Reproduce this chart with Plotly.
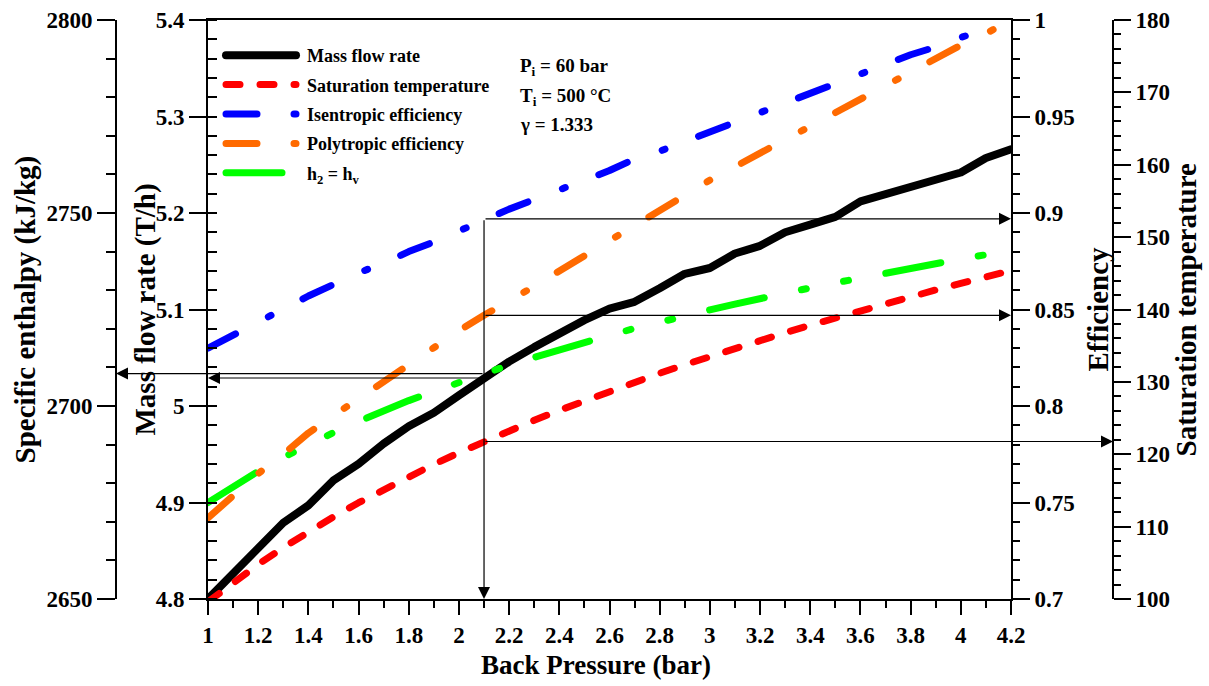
import plotly.graph_objects as go

# ---------------- data ----------------
pressure = [1.0, 1.1, 1.2, 1.3, 1.4, 1.5, 1.6, 1.7, 1.8, 1.9, 2.0, 2.1,
            2.2, 2.3, 2.4, 2.5, 2.6, 2.7, 2.8, 2.9, 3.0, 3.1, 3.2, 3.3,
            3.4, 3.5, 3.6, 3.7, 3.8, 3.9, 4.0, 4.1, 4.2]

mass_flow = [4.800, 4.826, 4.853, 4.879, 4.897, 4.923, 4.940, 4.961, 4.979, 4.993, 5.011, 5.029,
             5.046, 5.061, 5.076, 5.089, 5.101, 5.108, 5.122, 5.137, 5.143, 5.158, 5.166, 5.180,
             5.188, 5.196, 5.212, 5.219, 5.227, 5.234, 5.242, 5.257, 5.266]

sat_temp = [99.61, 102.29, 104.78, 107.11, 109.29, 111.35, 113.30, 115.15, 116.91, 118.60, 120.21, 121.76,
            123.25, 124.69, 126.07, 127.41, 128.71, 129.97, 131.19, 132.37, 133.52, 134.65, 135.74, 136.80,
            137.84, 138.86, 139.85, 140.82, 141.77, 142.70, 143.61, 144.50, 145.38]

isen_eff = [0.830, 0.837, 0.844, 0.850, 0.857, 0.863, 0.869, 0.874, 0.880, 0.885, 0.891, 0.897,
            0.902, 0.907, 0.912, 0.917, 0.922, 0.928, 0.932, 0.937, 0.942, 0.947, 0.952, 0.957,
            0.962, 0.967, 0.972, 0.977, 0.982, 0.986, 0.991, 0.995]

poly_eff = [0.742, 0.754, 0.765, 0.775, 0.786, 0.795, 0.804, 0.813, 0.822, 0.831, 0.839, 0.847,
            0.854, 0.862, 0.870, 0.878, 0.886, 0.894, 0.902, 0.910, 0.917, 0.924, 0.931, 0.938,
            0.946, 0.953, 0.960, 0.966, 0.973, 0.981, 0.987, 0.993, 1.000]

h_vap = [2675.0, 2679.2, 2683.1, 2686.7, 2690.0, 2693.1, 2696.0, 2698.8, 2701.4, 2703.8, 2706.2, 2708.4,
         2710.6, 2712.6, 2714.6, 2716.5, 2718.3, 2720.1, 2721.8, 2723.4, 2724.9, 2726.4, 2727.9, 2729.3,
         2730.6, 2731.9, 2733.2, 2734.5, 2735.7, 2736.9, 2738.1, 2739.2]

series_names = ["Mass flow rate", "Saturation temperature", "Isentropic efficiency",
                "Polytropic efficiency", "h<sub>2</sub> = h<sub>v</sub>"]
param_labels = ["P<sub>i</sub> = 60 bar", "T<sub>i</sub> = 500 °C", "γ = 1.333"]
marked_pressure = 2.1

x_range = [1.0, 4.2]
mass_range = [4.8, 5.4]
enth_range = [2650, 2800]
eff_range = [0.7, 1.0]
temp_range = [100, 180]

# ---------------- layout geometry ----------------
W, H = 1209, 686
FONT = "Liberation Serif, Times New Roman, serif"
X0, X1 = 208 / W, 1011 / W
Y0, Y1 = 1 - 599 / H, 1 - 20 / H
ENTH_POS = 116 / W
TEMP_POS = 1113 / W
YMID = (Y0 + Y1) / 2

tickfont = dict(family=FONT, size=23, color="black", weight="bold")

fig = go.Figure()
n = len(isen_eff)
m = len(h_vap)
fig.add_trace(go.Scatter(x=pressure, y=mass_flow, name=series_names[0], mode="lines",
                         line=dict(color="black", width=8), yaxis="y", legendgroup="a"))
fig.add_trace(go.Scatter(x=pressure, y=sat_temp, name=series_names[1], mode="lines",
                         line=dict(color="#ff0000", width=7, dash="14px,20px"), yaxis="y4", legendgroup="b"))
fig.add_trace(go.Scatter(x=pressure[:n], y=isen_eff, name=series_names[2], mode="lines",
                         line=dict(color="#0000ff", width=7, dash="31px,37px,3px,36px"), yaxis="y3", legendgroup="c"))
fig.add_trace(go.Scatter(x=pressure, y=poly_eff, name=series_names[3], mode="lines",
                         line=dict(color="#ff6a00", width=7, dash="31px,37px,3px,36px"), yaxis="y3", legendgroup="d"))
fig.add_trace(go.Scatter(x=pressure[:m], y=h_vap, name=series_names[4], mode="lines",
                         line=dict(color="#00ff00", width=7, dash="56px,38px,5px,38px,5px,38px"), yaxis="y2", legendgroup="e"))

common = dict(showline=True, linecolor="black", linewidth=2, ticks="outside", tickcolor="black",
              tickwidth=2, showgrid=False, zeroline=False, tickfont=tickfont, automargin=False)

fig.update_layout(
    width=W, height=H, margin=dict(l=0, r=0, t=0, b=0),
    paper_bgcolor="white", plot_bgcolor="white",
    xaxis=dict(domain=[X0, X1], range=x_range, tick0=1, dtick=0.2, ticklen=14, mirror=True,
               minor=dict(dtick=0.1, ticks="outside", ticklen=7, tickwidth=2, tickcolor="black"),
               anchor="y", **common),
    yaxis=dict(domain=[Y0, Y1], range=mass_range, dtick=0.1, ticklen=17, anchor="x", side="left",
               minor=dict(dtick=0.02, ticks="inside", ticklen=9, tickwidth=2, tickcolor="black"),
               **common),
    yaxis2=dict(domain=[Y0, Y1], range=enth_range, dtick=50, ticklen=18, overlaying="y", anchor="free",
                position=ENTH_POS, side="left",
                minor=dict(dtick=10, ticks="outside", ticklen=9, tickwidth=2, tickcolor="black"),
                **common),
    yaxis3=dict(domain=[Y0, Y1], range=eff_range, dtick=0.05, ticklen=17, overlaying="y", anchor="x",
                side="right",
                minor=dict(dtick=0.01, ticks="outside", ticklen=7, tickwidth=2, tickcolor="black"),
                **common),
    yaxis4=dict(domain=[Y0, Y1], range=temp_range, dtick=10, ticklen=17, overlaying="y", anchor="free",
                position=TEMP_POS, side="right",
                minor=dict(dtick=2, ticks="outside", ticklen=7, tickwidth=2, tickcolor="black"),
                **common),
    showlegend=True,
    legend=dict(x=221 / W, y=1 - 37 / H, xanchor="left", yanchor="top", bgcolor="rgba(0,0,0,0)",
                font=dict(family=FONT, size=18, color="black", weight="bold"),
                itemwidth=76, tracegroupgap=3),
)

# axis titles
title_font = dict(family=FONT, size=29, color="black", weight="bold")
titles = [
    ("Specific enthalpy (kJ/kg)", 25 / W, YMID, -90),
    ("Mass flow rate (T/h)", 145 / W, YMID, -90),
    ("Efficiency", 1097 / W, YMID, -90),
    ("Saturation temperature", 1185 / W, YMID, -90),
]
for txt, xp, yp, ang in titles:
    fig.add_annotation(text=txt, x=xp, y=yp, xref="paper", yref="paper", showarrow=False,
                       textangle=ang, font=title_font, xanchor="center", yanchor="middle")
fig.add_annotation(text="Back Pressure (bar)", x=(X0 + X1) / 2 - 0.011, y=1 - 665 / H, xref="paper",
                   yref="paper", showarrow=False, font=dict(family=FONT, size=27, color="black", weight="bold"),
                   xanchor="center", yanchor="middle")

# parameters text
for k, (lab, ypix) in enumerate(zip(param_labels, [67, 97, 124])):
    fig.add_annotation(text=lab, x=518 / W, y=1 - ypix / H, xref="paper", yref="paper", showarrow=False,
                       font=dict(family=FONT, size=19, color="black", weight="bold"),
                       xanchor="left", yanchor="middle")

# reading arrows at the marked pressure
i = pressure.index(marked_pressure)


def x_at_paper(p):
    return x_range[0] + (p - X0) / (X1 - X0) * (x_range[1] - x_range[0])


arrow = dict(showarrow=True, arrowhead=2, arrowsize=2, arrowwidth=1.2, arrowcolor="black",
             text="", standoff=0, axref="x")
# vertical arrow down to the pressure axis
fig.add_annotation(x=marked_pressure, y=eff_range[0], ax=marked_pressure, ay=isen_eff[i],
                   xref="x", yref="y3", ayref="y3", **arrow)
# to the efficiency axis
fig.add_annotation(x=x_range[1], y=isen_eff[i], ax=marked_pressure, ay=isen_eff[i],
                   xref="x", yref="y3", ayref="y3", **arrow)
fig.add_annotation(x=x_range[1], y=poly_eff[i], ax=marked_pressure, ay=poly_eff[i],
                   xref="x", yref="y3", ayref="y3", **arrow)
# to the saturation temperature axis
fig.add_annotation(x=x_at_paper(TEMP_POS), y=sat_temp[i], ax=marked_pressure, ay=sat_temp[i],
                   xref="x", yref="y4", ayref="y4", **arrow)
# to the mass flow axis
fig.add_annotation(x=x_range[0], y=mass_flow[i], ax=marked_pressure, ay=mass_flow[i],
                   xref="x", yref="y", ayref="y", **arrow)
# to the enthalpy axis
fig.add_annotation(x=x_at_paper(ENTH_POS), y=h_vap[i], ax=marked_pressure, ay=h_vap[i],
                   xref="x", yref="y2", ayref="y2", **arrow)

post = """
var gd = document.getElementById('{plot_id}');
gd.querySelectorAll('path.js-line').forEach(function(p){
  p.style.strokeLinecap = 'round';
  p.style.strokeLinejoin = 'round';
});
gd.querySelectorAll('.legend path.js-line').forEach(function(p){
  p.setAttribute('d', 'M5,0h70');
});
"""
fig.write_html("out.html", post_script=post)
